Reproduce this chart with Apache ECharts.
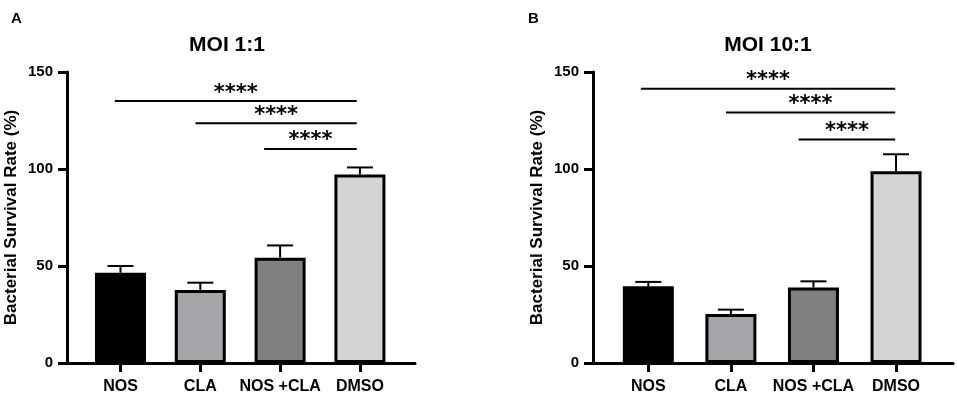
<!DOCTYPE html>
<html>
<head>
<meta charset="utf-8">
<script src="https://cdn.jsdelivr.net/npm/echarts@6/dist/echarts.min.js"></script>
<style>
  html, body { margin: 0; padding: 0; background: #fff; }
  #main { width: 957px; height: 395px; }
</style>
</head>
<body>
<div id="main"></div>
<script>
// groups on the x axis
var categories = ['NOS', 'CLA', 'NOS +CLA', 'DMSO'];
var barColors = ['#000000', '#a6a6aa', '#808080', '#d4d4d4'];

// panel A - MOI 1:1
var meanA = [46.5, 37.6, 54.3, 97.2];
var errA = [3.5, 3.8, 6.3, 3.6];
// [from, to, height] of the significance bars
var sigA = [[-0.07, 2.96, 135.0], [0.94, 2.96, 123.6], [1.8, 2.96, 110.3]];

// panel B - MOI 10:1
var meanB = [39.6, 25.2, 38.9, 98.9];
var errB = [2.2, 2.3, 3.2, 8.7];
var sigB = [[-0.09, 2.99, 141.4], [0.94, 2.99, 129.1], [1.82, 2.99, 115.2]];

var yTicks = [0, 50, 100, 150];
var sigText = '****';

var chart = echarts.init(document.getElementById('main'), null, { renderer: 'canvas' });
var FONT = 'Liberation Sans, Arial, sans-serif';

function barData(means) {
  return means.map(function (v, i) {
    return { value: [i, v], itemStyle: { color: barColors[i] } };
  });
}

function errData(means, errs) {
  return means.map(function (v, i) { return [i, v, v + errs[i]]; });
}

function renderErr(params, api) {
  var p0 = api.coord([api.value(0), api.value(1)]);
  var p1 = api.coord([api.value(0), api.value(2)]);
  var style = { stroke: '#000', lineWidth: 2 };
  return {
    type: 'group',
    children: [
      { type: 'line', shape: { x1: p0[0], y1: p0[1], x2: p1[0], y2: p1[1] }, style: style },
      { type: 'line', shape: { x1: p1[0] - 13, y1: p1[1], x2: p1[0] + 13, y2: p1[1] }, style: style }
    ]
  };
}

function renderSig(params, api) {
  var a = api.coord([api.value(0), api.value(2)]);
  var b = api.coord([api.value(1), api.value(2)]);
  return {
    type: 'group',
    children: [
      { type: 'line', shape: { x1: a[0], y1: a[1], x2: b[0], y2: b[1] },
        style: { stroke: '#000', lineWidth: 2 } },
      { type: 'text', x: (a[0] + b[0]) / 2, y: a[1] - 8,
        style: { text: sigText, fill: '#000', font: 'bold 21px DejaVu Sans',
                 align: 'center', verticalAlign: 'middle' } }
    ]
  };
}

function xAxisFor(idx) {
  return {
    type: 'value', gridIndex: idx, min: -0.67, max: 3.69,
    axisLine: { show: true, onZero: false, lineStyle: { color: '#000', width: 3 } },
    axisTick: { show: true, customValues: [0, 1, 2, 3], length: 9, lineStyle: { color: '#000', width: 3 } },
    axisLabel: {
      customValues: [0, 1, 2, 3], margin: 16,
      color: '#000', fontFamily: FONT, fontWeight: 'bold', fontSize: 16,
      formatter: function (v) { return categories[Math.round(v)]; }
    },
    splitLine: { show: false }
  };
}

function yAxisFor(idx) {
  return {
    type: 'value', gridIndex: idx, min: 0, max: 150, interval: 50,
    name: 'Bacterial Survival Rate (%)', nameLocation: 'middle', nameGap: 47,
    nameTextStyle: { color: '#000', fontFamily: FONT, fontWeight: 'bold', fontSize: 17 },
    axisLine: { show: true, onZero: false, lineStyle: { color: '#000', width: 3 } },
    axisTick: { show: true, length: 9, lineStyle: { color: '#000', width: 3 } },
    axisLabel: {
      margin: 14, color: '#000', fontFamily: FONT, fontWeight: 'bold', fontSize: 15,
      customValues: yTicks
    },
    splitLine: { show: false }
  };
}

function barSeries(idx, means) {
  return {
    type: 'bar', xAxisIndex: idx, yAxisIndex: idx, barWidth: 51,
    data: barData(means),
    itemStyle: { borderColor: '#000', borderWidth: 3 },
    silent: true
  };
}

var option = {
  animation: false,
  backgroundColor: '#fff',
  title: [
    { text: 'A', left: 6, top: 6, textStyle: { fontFamily: FONT, fontWeight: 'bold', fontSize: 15, color: '#000' } },
    { text: 'B', left: 523, top: 6, textStyle: { fontFamily: FONT, fontWeight: 'bold', fontSize: 15, color: '#000' } },
    { text: 'MOI 1:1', left: 222, top: 30, textAlign: 'center',
      textStyle: { fontFamily: FONT, fontWeight: 'bold', fontSize: 21, color: '#000' } },
    { text: 'MOI 10:1', left: 763, top: 30, textAlign: 'center',
      textStyle: { fontFamily: FONT, fontWeight: 'bold', fontSize: 21, color: '#000' } }
  ],
  grid: [
    { left: 67, top: 72, width: 348, height: 292 },
    { left: 593, top: 72, width: 360, height: 291 }
  ],
  xAxis: [xAxisFor(0), xAxisFor(1)],
  yAxis: [yAxisFor(0), yAxisFor(1)],
  series: [
    barSeries(0, meanA),
    barSeries(1, meanB),
    { type: 'custom', xAxisIndex: 0, yAxisIndex: 0, renderItem: renderErr, data: errData(meanA, errA), z: 1 },
    { type: 'custom', xAxisIndex: 1, yAxisIndex: 1, renderItem: renderErr, data: errData(meanB, errB), z: 1 },
    { type: 'custom', xAxisIndex: 0, yAxisIndex: 0, renderItem: renderSig, data: sigA, clip: false },
    { type: 'custom', xAxisIndex: 1, yAxisIndex: 1, renderItem: renderSig, data: sigB, clip: false }
  ]
};

chart.setOption(option);
</script>
</body>
</html>
